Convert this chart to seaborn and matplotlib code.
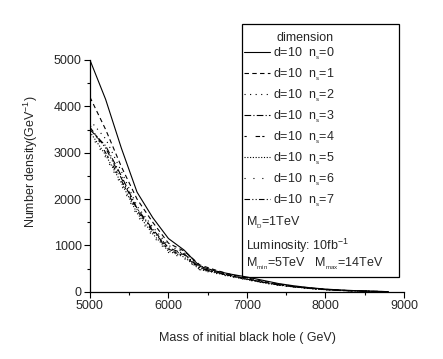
import matplotlib
matplotlib.use("Agg")
import matplotlib.pyplot as plt
import seaborn as sns
import numpy as np
from matplotlib.patches import Rectangle
from matplotlib.ticker import MultipleLocator

sns.set_style("ticks")
plt.rcParams['font.family'] = ['Liberation Sans', 'DejaVu Sans']
plt.rcParams['mathtext.fontset'] = 'custom'
plt.rcParams['mathtext.rm'] = 'Liberation Sans'
plt.rcParams['mathtext.it'] = 'Liberation Sans'

mass = [5000, 5200, 5400, 5600, 5800, 6000, 6200, 6400, 6600, 6800,
        7000, 7200, 7400, 7600, 7800, 8000, 8200, 8400, 8600, 8800]

n0 = [5000, 4150, 3100, 2150, 1600, 1150, 900, 550, 450, 380, 320, 250, 180, 130, 90, 60, 40, 25, 15, 5]
n1 = [4200, 3500, 2700, 2000, 1500, 1050, 880, 580, 470, 370, 300, 230, 170, 120, 85, 55, 35, 22, 12, 5]
n2 = [3700, 3300, 2600, 1850, 1400, 1000, 850, 560, 450, 360, 290, 220, 160, 115, 80, 52, 33, 20, 11, 4]
n3 = [3500, 3150, 2500, 1800, 1350, 950, 820, 520, 430, 350, 280, 210, 155, 110, 78, 50, 32, 20, 10, 4]
n4 = [3600, 3000, 2400, 1750, 1300, 900, 780, 500, 420, 340, 270, 205, 150, 108, 75, 48, 30, 19, 10, 4]
n5 = [3450, 2950, 2350, 1700, 1250, 880, 750, 480, 410, 330, 265, 200, 145, 105, 72, 46, 29, 18, 9, 3]
n6 = [3400, 2900, 2300, 1650, 1200, 850, 720, 470, 400, 320, 260, 195, 140, 100, 70, 45, 28, 17, 9, 3]
n7 = [3550, 3100, 2450, 1780, 1320, 920, 800, 510, 425, 345, 275, 208, 152, 110, 76, 49, 31, 19, 10, 4]

series = [n0, n1, n2, n3, n4, n5, n6, n7]
labels = ["d=10  n$_{_s}$=%d" % i for i in range(8)]
styles = ['-', (0, (4, 3)), (0, (1, 4)), (0, (6, 2, 1, 2)), (0, (2, 8, 4, 2)),
          (0, (1, 1.5)), (0, (1, 7)), (0, (5, 2, 1, 2, 1, 2))]

fig = plt.figure(figsize=(4.43, 3.59), dpi=100)
ax = fig.add_axes([0.203, 0.187, 0.709, 0.646])

for vals, lab, ls in zip(series, labels, styles):
    sns.lineplot(x=mass, y=vals, color='black', lw=0.8, linestyle=ls, label=lab, ax=ax)

ax.set_xlim(5000, 9000)
ax.set_ylim(0, 5000)
ax.xaxis.set_major_locator(MultipleLocator(1000))
ax.xaxis.set_minor_locator(MultipleLocator(500))
ax.yaxis.set_major_locator(MultipleLocator(1000))
ax.yaxis.set_minor_locator(MultipleLocator(500))
ax.tick_params(which='major', length=4, width=0.8, labelsize=9, color='black', pad=2)
ax.tick_params(which='minor', length=2.5, width=0.8, color='black')
sns.despine(ax=ax)
for s in ['left', 'bottom']:
    ax.spines[s].set_color('black')
    ax.spines[s].set_linewidth(0.9)

ax.set_xlabel("Mass of initial black hole ( GeV)", fontsize=9, labelpad=14)
ax.set_ylabel("Number density(GeV$^{-1}$)", fontsize=9)
ax.yaxis.set_label_coords(-0.16, 0.56)

leg = ax.legend(loc='upper left', bbox_to_anchor=(244 / 443, 1 - 45 / 359),
                bbox_transform=fig.transFigure, frameon=False, fontsize=9,
                handlelength=2.1, handletextpad=0.25, labelspacing=0.36,
                borderaxespad=0, borderpad=0)

fig.patches.append(Rectangle((242 / 443, 1 - 277 / 359), 157 / 443, 253 / 359,
                             transform=fig.transFigure, fill=False,
                             edgecolor='black', lw=0.9))
fig.text(305 / 443, 1 - 38 / 359, "dimension", fontsize=9, va='center', ha='center')
fig.text(246 / 443, 1 - 223 / 359, "M$_{_D}$=1TeV", fontsize=9, va='center')
fig.text(246 / 443, 1 - 246 / 359, "Luminosity: 10fb$^{-1}$", fontsize=9, va='center')
fig.text(246 / 443, 1 - 264 / 359, "M$_{_{min}}$=5TeV   M$_{_{max}}$=14TeV", fontsize=9, va='center')

fig.savefig("out.png", dpi=100)
